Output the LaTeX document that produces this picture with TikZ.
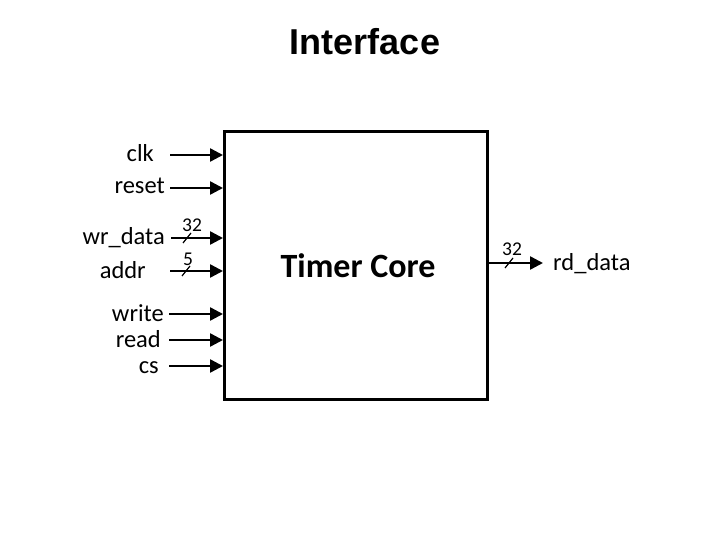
\documentclass[tikz,border=0pt]{standalone}
\usepackage{fontspec}
\setmainfont{Carlito}
\newfontfamily\titlefont{Liberation Sans}
\usetikzlibrary{arrows.meta, positioning, calc}

\begin{document}
\begin{tikzpicture}[
    x=1pt, y=-1pt,
    core/.style  = {draw, line width=3pt, minimum width=263pt, minimum height=268pt, inner sep=0pt},
    sig/.style   = {anchor=base east, inner sep=0pt, font=\fontsize{24.5}{28}\selectfont},
    buswd/.style = {anchor=base, inner sep=0pt, font=\fontsize{19.5}{22}\selectfont},
    arr/.style   = {-{Triangle[length=13pt,width=13pt]}, line width=2.5pt},
    slash/.style = {line width=1.2pt},
    >=Latex
]
\useasboundingbox (0,0) rectangle (720,540);

% ---- Title ----
\node[anchor=base, inner sep=0pt, font=\titlefont\bfseries\fontsize{36}{40}\selectfont] (title) at (365,55) {Interface};

% ---- Core block ----
\node[core] (core) at (356,265.5) {};
\node[anchor=base, inner sep=0pt, font=\bfseries\fontsize{34}{38}\selectfont] (name) at (358,277) {Timer Core};

% ---- Input labels ----
\node[sig] (clk)  at (154,162) {clk};
\node[sig] (rst)  at (165,194) {reset};
\node[sig] (wdat) at (165,244) {wr\_data};
\node[sig] (addr) at (146,278) {addr};
\node[sig] (wr)   at (164,321) {write};
\node[sig] (rd)   at (161,347) {read};
\node[sig] (cs)   at (159,373) {cs};

% ---- Input arrows ----
\coordinate (clk-s)  at (170,155);
\coordinate (rst-s)  at (170,188);
\coordinate (wdat-s) at (171,238);
\coordinate (addr-s) at (170,271);
\coordinate (wr-s)   at (169,314);
\coordinate (rd-s)   at (169,340);
\coordinate (cs-s)   at (169,366);

\draw[arr] (clk-s)  -- (clk-s  -| core.west);
\draw[arr] (rst-s)  -- (rst-s  -| core.west);
\draw[arr] (wdat-s) -- (wdat-s -| core.west);
\draw[arr] (addr-s) -- (addr-s -| core.west);
\draw[arr] (wr-s)   -- (wr-s   -| core.west);
\draw[arr] (rd-s)   -- (rd-s   -| core.west);
\draw[arr] (cs-s)   -- (cs-s   -| core.west);

% ---- Bus widths (inputs) ----
\coordinate (wdat-b) at (187,238);
\coordinate (addr-b) at (186,271);
\draw[slash] ($(wdat-b)+(-4,5)$) -- ($(wdat-b)+(4,-5)$);
\draw[slash] ($(addr-b)+(-4,5)$) -- ($(addr-b)+(4,-5)$);
\node[buswd] (wdat-w) at (192,232) {32};
\node[buswd] (addr-w) at (188,265) {5};

% ---- Output ----
\coordinate (rdat-e) at (543,263);
\draw[arr] (core.east |- rdat-e) -- (rdat-e);
\node[sig, anchor=base west] (rdat) at (553,270) {rd\_data};
\coordinate (rdat-b) at (509,263);
\draw[slash] ($(rdat-b)+(-4,5)$) -- ($(rdat-b)+(4,-5)$);
\node[buswd] (rdat-w) at (512,255) {32};

\end{tikzpicture}
\end{document}
